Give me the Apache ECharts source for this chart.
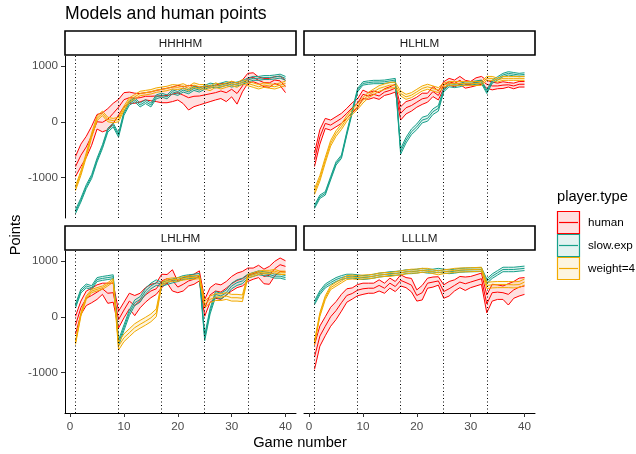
<!DOCTYPE html>
<html><head><meta charset="utf-8">
<script src="https://cdn.jsdelivr.net/npm/echarts@6/dist/echarts.min.js"></script>
<style>html,body{margin:0;padding:0;background:#fff}#c{width:636px;height:454px}</style>
</head><body><div id="c"></div>
<script>
const games = [1,2,3,4,5,6,7,8,9,10,11,12,13,14,15,16,17,18,19,20,21,22,23,24,25,26,27,28,29,30,31,32,33,34,35,36,37,38,39,40];
const panelNames = ['HHHHM','HLHLM','LHLHM','LLLLM'];
const seriesNames = ['human','slow.exp','weight=4'];
const blockStarts = [1,9,17,25,33];
const xTicks = [0,10,20,30,40];
const yTicks = [-1000,0,1000];

// HHHHM
const hhhhm_human_mean = [-800,-600,-450,-250,0,-10,45,150,260,395,430,420,430,455,455,460,460,470,490,520,475,430,455,460,480,500,520,550,520,580,505,640,775,795,740,700,695,745,730,630];
const hhhhm_human_se   = [180,200,190,170,130,170,190,180,140,125,100,90,75,65,80,100,120,130,130,130,150,220,185,160,150,140,130,135,160,135,190,105,90,80,60,75,80,60,85,110];
const hhhhm_slow_mean  = [-1607,-1400,-1160,-980,-685,-446,-150,-60,-240,150,330,390,300,360,300,445,475,445,535,505,565,535,595,565,615,655,640,655,685,655,675,700,745,775,775,790,790,800,815,775];
const hhhhm_slow_se    = [35,35,35,35,35,35,35,35,35,35,35,35,35,35,35,35,35,35,35,35,35,35,35,35,35,35,35,35,35,35,35,35,35,35,35,35,35,35,35,35];
const hhhhm_w4_mean    = [-1190,-920,-595,-240,60,150,40,20,40,240,390,445,505,520,535,565,580,595,625,615,640,595,655,625,625,595,655,625,655,685,655,715,685,655,625,655,640,625,655,685];
const hhhhm_w4_se      = [40,40,40,40,40,40,40,40,40,40,40,40,40,40,40,40,40,40,40,40,40,40,40,40,40,40,40,40,40,40,40,40,40,40,40,40,40,40,40,40];
// HLHLM
const hlhlm_human_mean = [-680,-270,-30,-60,0,60,150,250,330,490,460,490,460,530,560,600,150,250,290,350,410,430,540,470,655,715,685,740,670,670,715,740,670,640,640,655,660,640,670,670];
const hlhlm_human_se   = [120,130,90,90,90,90,90,90,80,75,60,60,60,60,65,70,120,110,100,90,100,80,90,80,60,60,60,70,70,50,70,70,70,70,50,60,40,50,50,50];
const hlhlm_slow_mean  = [-1520,-1340,-1280,-1010,-745,-625,-210,180,565,685,700,710,710,715,730,745,-530,-330,-180,-90,30,60,180,240,565,655,640,655,685,685,700,715,535,715,775,835,865,850,835,845];
const hlhlm_slow_se    = [30,30,30,30,30,30,30,30,30,30,30,30,30,30,30,30,50,50,50,50,50,50,50,50,30,30,30,30,30,30,30,30,30,30,30,30,30,30,30,30];
const hlhlm_w4_mean    = [-1250,-1010,-685,-385,-210,-90,60,180,270,385,475,535,595,625,655,655,505,445,475,535,595,625,595,565,655,685,685,685,685,685,685,685,775,775,745,775,775,775,775,775];
const hlhlm_w4_se      = [50,50,50,50,50,50,50,50,50,50,50,50,50,50,50,50,45,45,45,45,45,45,45,45,35,35,35,35,35,35,35,35,35,35,35,35,35,35,35,35];
// LHLHM
const lhlhm_human_mean = [-150,160,330,380,440,500,420,430,-50,120,280,200,290,390,460,500,640,680,650,530,580,640,670,730,160,390,460,440,510,590,650,680,750,770,810,720,740,860,930,900];
const lhlhm_human_se   = [160,120,130,130,130,100,180,170,150,140,140,180,130,130,120,100,120,75,190,100,120,90,90,90,150,130,130,130,120,130,130,130,120,100,110,130,160,130,120,100];
const lhlhm_slow_mean  = [190,460,550,520,665,685,700,715,-465,-195,70,250,310,460,550,610,580,610,640,665,700,715,725,740,-375,100,400,370,430,550,610,640,725,755,785,770,755,725,725,700];
const lhlhm_slow_se    = [35,35,35,35,35,35,35,35,50,50,50,50,50,50,50,50,35,35,35,35,35,35,35,35,50,50,50,50,50,50,50,50,35,35,35,35,35,35,35,35];
const lhlhm_w4_mean    = [-465,40,340,460,490,520,580,650,-525,-375,-285,-195,-135,-80,-20,70,590,650,665,665,685,700,700,710,220,310,350,350,370,340,340,330,725,755,785,800,800,815,785,785];
const lhlhm_w4_se      = [30,30,30,30,30,30,30,30,70,70,70,70,70,70,70,70,30,30,30,30,30,30,30,30,60,60,60,60,60,60,60,60,30,30,30,30,30,30,30,30];
// LLLLM
const llllm_human_mean = [-720,-345,-170,0,110,250,380,415,475,500,510,510,560,510,600,540,650,610,565,380,430,600,620,640,450,500,560,620,590,620,650,680,230,430,440,430,400,480,530,550];
const llllm_human_se   = [220,180,170,170,160,150,120,100,100,100,90,90,100,90,90,90,100,90,120,100,130,90,90,75,120,130,100,100,120,100,100,100,160,150,130,120,190,150,160,150];
const llllm_slow_mean  = [250,430,550,610,665,700,725,725,715,700,710,725,745,755,770,775,785,805,805,815,830,815,815,830,815,805,815,830,835,840,840,845,635,725,785,845,845,845,855,865];
const llllm_slow_se    = [35,35,35,35,35,35,35,35,35,35,35,35,35,35,35,35,35,35,35,35,35,35,35,35,35,35,35,35,35,35,35,35,40,40,40,40,40,40,40,40];
const llllm_w4_mean    = [-465,40,340,520,580,640,700,710,700,710,715,725,745,755,755,770,785,800,815,815,830,830,805,785,805,815,830,835,840,840,845,850,560,570,575,575,575,570,575,620];
const llllm_w4_se      = [35,35,35,35,35,35,35,35,35,35,35,35,35,35,35,35,35,35,35,35,35,35,35,35,35,35,35,35,35,35,35,35,55,55,55,55,55,55,55,55];

const panelData = [
  [[hhhhm_human_mean,hhhhm_human_se],[hhhhm_slow_mean,hhhhm_slow_se],[hhhhm_w4_mean,hhhhm_w4_se]],
  [[hlhlm_human_mean,hlhlm_human_se],[hlhlm_slow_mean,hlhlm_slow_se],[hlhlm_w4_mean,hlhlm_w4_se]],
  [[lhlhm_human_mean,lhlhm_human_se],[lhlhm_slow_mean,lhlhm_slow_se],[lhlhm_w4_mean,lhlhm_w4_se]],
  [[llllm_human_mean,llllm_human_se],[llllm_slow_mean,llllm_slow_se],[llllm_w4_mean,llllm_w4_se]]
];

const lineColors = ['#FF0000','#16A08A','#F2AA00'];
const fillColors = ['rgba(255,0,0,0.12)','rgba(22,160,138,0.12)','rgba(242,170,0,0.12)'];
const FONT = '"Liberation Sans", Arial, sans-serif';
const yMin = -1720, yMax = 1175;

const grids = [
  {left:65, top:56, width:231, height:162},
  {left:304, top:56, width:231, height:162},
  {left:65, top:251, width:231, height:162},
  {left:304, top:251, width:231, height:162}
];

const plain = v => String(v);

const xAxes = grids.map((g,i)=>{
  const bottom = i>=2;
  return {gridIndex:i, type:'value', min:-0.95, max:41.95,
    axisLine:{show:bottom, onZero:false, lineStyle:{color:'#000', width:1}},
    axisTick:{show:bottom, length:4, lineStyle:{color:'#333'}, customValues:xTicks},
    axisLabel:{show:bottom, customValues:xTicks, formatter:plain, color:'#4D4D4D', fontSize:11.7, fontFamily:FONT, margin:8},
    splitLine:{show:false}};
});
const yAxes = grids.map((g,i)=>{
  const left = i%2===0;
  return {gridIndex:i, type:'value', min:yMin, max:yMax,
    axisLine:{show:left, onZero:false, lineStyle:{color:'#000', width:1}},
    axisTick:{show:left, length:4, lineStyle:{color:'#333'}, customValues:yTicks},
    axisLabel:{show:left, customValues:yTicks, formatter:plain, color:'#4D4D4D', fontSize:11.7, fontFamily:FONT, margin:7},
    splitLine:{show:false}};
});

const series = [];
for (let i=0;i<4;i++){
  series.push({type:'line', xAxisIndex:i, yAxisIndex:i, data:[], silent:true, animation:false, z:1,
    markLine:{silent:true, animation:false, symbol:['none','none'], label:{show:false},
      lineStyle:{color:'#000', type:[1,2.5], width:1},
      data: blockStarts.map(b=>({xAxis:b}))}});
}
for (let i=0;i<4;i++){
  for (let k=0;k<3;k++){
    const mean = panelData[i][k][0], se = panelData[i][k][1];
    series.push({type:'custom', name:seriesNames[k], xAxisIndex:i, yAxisIndex:i, silent:true, animation:false, z:2,
      data:[[games[0], mean[0]]],
      renderItem:function(params, api){
        const up=[], lo=[];
        for (let j=0;j<games.length;j++){
          up.push(api.coord([games[j], mean[j]+se[j]]));
          lo.push(api.coord([games[j], mean[j]-se[j]]));
        }
        return {type:'polygon', shape:{points: up.concat(lo.reverse())}, style:{fill:fillColors[k], stroke:null}};
      }});
  }
  for (let k=0;k<3;k++){
    const mean = panelData[i][k][0], se = panelData[i][k][1];
    const sets = [games.map((g,j)=>[g, mean[j]-se[j]]), games.map((g,j)=>[g, mean[j]]), games.map((g,j)=>[g, mean[j]+se[j]])];
    sets.forEach(d=>{
      series.push({type:'line', name:seriesNames[k], xAxisIndex:i, yAxisIndex:i, data:d, symbol:'none', showSymbol:false,
        silent:true, animation:false, z:3, lineStyle:{color:lineColors[k], width:1}, itemStyle:{color:lineColors[k]}});
    });
  }
}

const graphic = [];
graphic.push({type:'text', left:65, top:5, style:{text:'Models and human points', font:'17.6px '+FONT, fill:'#000'}});
const strips = [[65,31],[304,31],[65,226],[304,226]];
strips.forEach((s,i)=>{
  graphic.push({type:'rect', shape:{x:s[0], y:s[1], width:231, height:24}, style:{fill:'#fff', stroke:'#000', lineWidth:1.6}, z:10});
  graphic.push({type:'text', x:s[0]+115.5, y:s[1]+12.5, style:{text:panelNames[i], font:'11.7px '+FONT, fill:'#1A1A1A', align:'center', verticalAlign:'middle'}, z:11});
});
graphic.push({type:'text', x:300, y:442.5, style:{text:'Game number', font:'14.67px '+FONT, fill:'#000', align:'center', verticalAlign:'middle'}});
graphic.push({type:'text', x:16, y:235, rotation:Math.PI/2, style:{text:'Points', font:'14.67px '+FONT, fill:'#000', align:'center', verticalAlign:'middle'}});
graphic.push({type:'text', x:557, y:197, style:{text:'player.type', font:'14.67px '+FONT, fill:'#000', align:'left', verticalAlign:'middle'}});
seriesNames.forEach((n,k)=>{
  const y0 = 211 + k*23;
  graphic.push({type:'rect', shape:{x:557.5, y:y0+0.5, width:22, height:22}, style:{fill:fillColors[k], stroke:lineColors[k], lineWidth:1.2}});
  graphic.push({type:'line', shape:{x1:559, y1:y0+11.5, x2:578, y2:y0+11.5}, style:{stroke:lineColors[k], lineWidth:1.2}});
  graphic.push({type:'text', x:588, y:y0+11.5, style:{text:n, font:'11.7px '+FONT, fill:'#000', align:'left', verticalAlign:'middle'}});
});

const chart = echarts.init(document.getElementById('c'), null, {renderer:'canvas'});
chart.setOption({animation:false, backgroundColor:'#fff', grid:grids, xAxis:xAxes, yAxis:yAxes, series:series, graphic:graphic});
</script></body></html>
